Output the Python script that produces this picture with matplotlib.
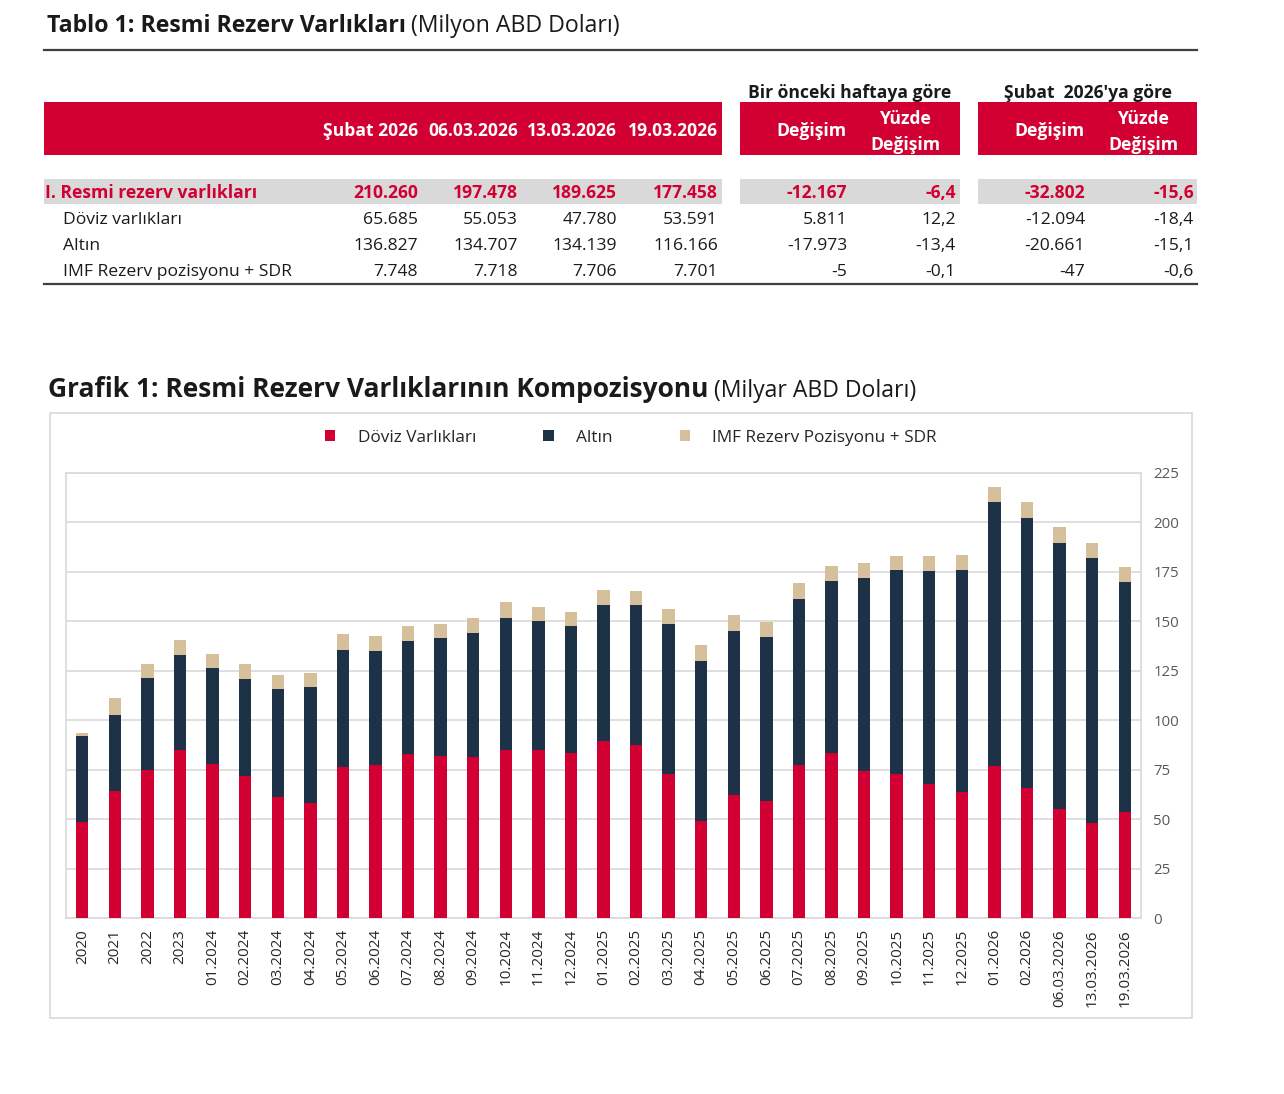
import matplotlib
matplotlib.use("Agg")
import matplotlib.pyplot as plt
from matplotlib.patches import Rectangle
from matplotlib.lines import Line2D

plt.rcParams['font.family'] = ['Open Sans', 'DejaVu Sans']

# ---------------- data ----------------
table_columns = ["Şubat 2026", "06.03.2026", "13.03.2026", "19.03.2026"]
row_labels = ["I. Resmi rezerv varlıkları", "Döviz varlıkları", "Altın",
              "IMF Rezerv pozisyonu + SDR"]
level_total = [210260, 197478, 189625, 177458]
level_doviz = [65685, 55053, 47780, 53591]
level_altin = [136827, 134707, 134139, 116166]
level_imf = [7748, 7718, 7706, 7701]
weekly_change = [-12167, 5811, -17973, -5]
weekly_pct = [-6.4, 12.2, -13.4, -0.1]
feb_change = [-32802, -12094, -20661, -47]
feb_pct = [-15.6, -18.4, -15.1, -0.6]

categories = ["2020", "2021", "2022", "2023",
              "01.2024", "02.2024", "03.2024", "04.2024", "05.2024", "06.2024",
              "07.2024", "08.2024", "09.2024", "10.2024", "11.2024", "12.2024",
              "01.2025", "02.2025", "03.2025", "04.2025", "05.2025", "06.2025",
              "07.2025", "08.2025", "09.2025", "10.2025", "11.2025", "12.2025",
              "01.2026", "02.2026", "06.03.2026", "13.03.2026", "19.03.2026"]
doviz = [48.3, 64.4, 75.0, 85.1, 77.9, 71.6, 61.0, 58.1, 76.1, 77.3, 82.7, 81.7,
         81.2, 85.1, 85.1, 83.4, 89.3, 87.3, 72.8, 48.8, 62.3, 59.0, 77.3, 83.4,
         74.5, 72.8, 67.7, 63.9, 76.7, 65.7, 55.1, 47.8, 53.6]
altin = [43.5, 38.4, 46.3, 47.9, 48.5, 49.2, 54.8, 58.7, 59.5, 57.8, 57.5, 59.7,
         62.9, 66.7, 65.1, 64.0, 69.2, 70.8, 75.8, 81.3, 82.9, 82.9, 84.0, 86.8,
         97.5, 103.1, 107.5, 112.0, 133.6, 136.8, 134.7, 134.1, 116.2]
imf = [1.7, 8.4, 7.3, 7.7, 7.2, 7.8, 7.0, 7.2, 8.1, 7.3, 7.2, 7.5,
       7.7, 8.0, 7.3, 7.3, 7.3, 7.2, 7.6, 7.7, 7.8, 7.7, 7.9, 7.9,
       7.6, 7.3, 8.0, 7.8, 7.8, 7.7, 7.7, 7.7, 7.7]
series_names = ["Döviz Varlıkları", "Altın", "IMF Rezerv Pozisyonu + SDR"]
y_ticks = [0, 25, 50, 75, 100, 125, 150, 175, 200, 225]

# ---------------- styles ----------------
RED = "#D20032"
NAVY = "#1E3247"
TAN = "#D6BF9B"
GRAYBAND = "#D9D9D9"
LINE = "#404040"
TXT = "#1A1A1A"

W, H = 1284, 1094
fig = plt.figure(figsize=(W / 100, H / 100), dpi=100)
fig.patch.set_facecolor("white")


def fx(x):
    return x / W


def fy(y):
    return 1 - y / H


def rect(x0, y0, x1, y1, **kw):
    fig.patches.append(Rectangle((fx(x0), fy(y1)), fx(x1) - fx(x0), fy(y0) - fy(y1),
                                 transform=fig.transFigure, figure=fig, **kw))


def hline(x0, x1, y, color=LINE, lw=1.5):
    fig.add_artist(Line2D([fx(x0), fx(x1)], [fy(y), fy(y)], transform=fig.transFigure,
                          color=color, lw=lw))


def txt(x, y, s, **kw):
    kw.setdefault("va", "center")
    fig.text(fx(x), fy(y + 2.5), s, **kw)


def fmt_int(v):
    return f"{v:,}".replace(",", ".")


def fmt_pct(v):
    return f"{v:.1f}".replace(".", ",")


# ---------------- table ----------------
TS = 12.6
t1 = fig.text(fx(47), fy(31.5), "Tablo 1: Resmi Rezerv Varlıkları", fontsize=16.7,
              fontweight="bold", color=TXT, va="baseline")
fig.canvas.draw()
bb = t1.get_window_extent()
fig.text(bb.x1 / W + fx(5), fy(31.5), "(Milyon ABD Doları)", fontsize=16.7, color=TXT,
         va="baseline")
hline(44, 1197, 50, lw=1.6)

segments = [(44, 722), (740, 960), (978, 1197)]
for x0, x1 in segments:
    rect(x0, 102, x1, 155, facecolor=RED, edgecolor="none")
    rect(x0, 179, x1, 204, facecolor=GRAYBAND, edgecolor="none")

txt(850, 90, "Bir önceki haftaya göre", fontsize=TS, fontweight="bold", color=TXT, ha="center")
txt(1088, 90, "Şubat  2026'ya göre", fontsize=TS, fontweight="bold", color=TXT, ha="center")

col_x = [418, 518, 617, 718]
for x, c in zip(col_x, table_columns):
    txt(x, 128, c, fontsize=TS, fontweight="bold", color="white", ha="right")
for xr, xc in [(847, 905), (1085, 1143)]:
    txt(xr, 128, "Değişim", fontsize=TS, fontweight="bold", color="white", ha="right")
    txt(xc, 116, "Yüzde", fontsize=TS, fontweight="bold", color="white", ha="center")
    txt(xc, 142, "Değişim", fontsize=TS, fontweight="bold", color="white", ha="center")

row_y = [191, 217, 243, 269]
levels = [level_total, level_doviz, level_altin, level_imf]
all_x = col_x + [847, 956, 1085, 1194]
for i, (lab, y) in enumerate(zip(row_labels, row_y)):
    bold = i == 0
    color = RED if bold else TXT
    fw = "bold" if bold else "normal"
    txt(45 if bold else 63, y, lab, fontsize=TS, fontweight=fw, color=color, ha="left")
    vals = [fmt_int(v) for v in levels[i]] + [fmt_int(weekly_change[i]), fmt_pct(weekly_pct[i]),
                                              fmt_int(feb_change[i]), fmt_pct(feb_pct[i])]
    for x, v in zip(all_x, vals):
        txt(x, y, v, fontsize=TS, fontweight=fw, color=color, ha="right")
hline(44, 1197, 284, lw=1.6)

# ---------------- chart ----------------
t2 = fig.text(fx(48), fy(397.5), "Grafik 1: Resmi Rezerv Varlıklarının Kompozisyonu",
              fontsize=19.0, fontweight="bold", color=TXT, va="baseline")
fig.canvas.draw()
bb2 = t2.get_window_extent()
fig.text(bb2.x1 / W + fx(6), fy(397.5), "(Milyar ABD Doları)", fontsize=16.6, color=TXT,
         va="baseline")
rect(50, 413, 1192, 1018, facecolor="none", edgecolor="#D9D9D9", lw=1.2)

ax = fig.add_axes([fx(66), fy(918), fx(1141) - fx(66), fy(473) - fy(918)])
x = list(range(len(categories)))
bw = 0.38
b1 = ax.bar(x, doviz, bw, color=RED, label=series_names[0], zorder=3)
bottom2 = doviz
b2 = ax.bar(x, altin, bw, bottom=bottom2, color=NAVY, label=series_names[1], zorder=3)
bottom3 = [a + b for a, b in zip(doviz, altin)]
b3 = ax.bar(x, imf, bw, bottom=bottom3, color=TAN, label=series_names[2], zorder=3)

ax.set_xlim(-0.5, len(categories) - 0.5)
ax.set_ylim(0, 225)
ax.set_yticks(y_ticks)
ax.yaxis.tick_right()
ax.tick_params(axis="y", length=0, pad=16, labelsize=10.8, labelcolor="#595959")
ax.set_xticks(x)
ax.set_xticklabels(categories, rotation=90, fontsize=11, color="#262626")
ax.tick_params(axis="x", length=0, pad=8)
ax.grid(axis="y", color="#D9D9D9", lw=1.2, zorder=0)
for s in ax.spines.values():
    s.set_color("#D9D9D9")
    s.set_linewidth(1.2)
for lab in ax.get_yticklabels():
    lab.set_horizontalalignment("left")
ax.tick_params(axis="y", pad=9)

fig.legend(handles=[b1, b2, b3], labels=series_names, loc="center",
           bbox_to_anchor=(fx(631), fy(438)), ncol=3, frameon=False, fontsize=12.4,
           handlelength=0.6, handleheight=0.6, handletextpad=1.3, columnspacing=3.9,
           labelcolor="#262626")

fig.savefig("out.png", dpi=100, facecolor="white")
